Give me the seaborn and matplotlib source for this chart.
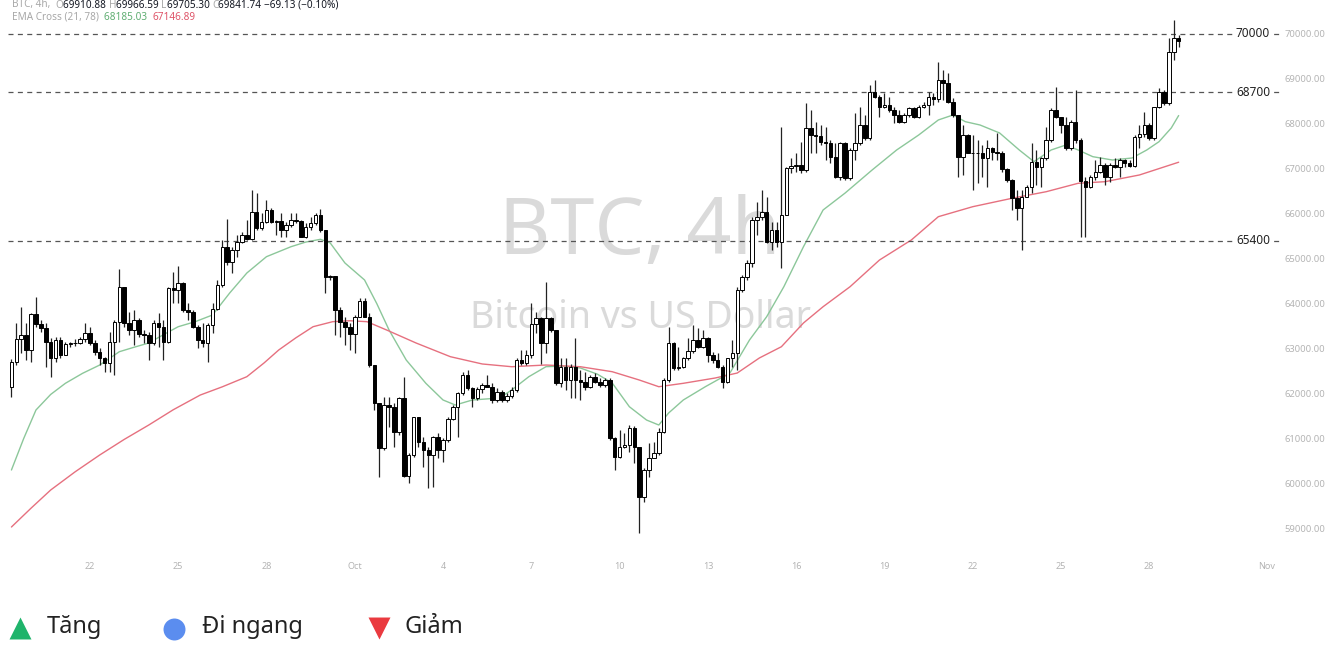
import numpy as np
import pandas as pd
import matplotlib
matplotlib.use("Agg")
import matplotlib.pyplot as plt
import matplotlib.dates as mdates
import seaborn as sns

W, H = 1337, 655

# --- 4h BTC candles ---
start = "2024-09-19 08:00"
first_open = 62153
close = [
    62709, 63206, 63303, 62969, 63770, 63548, 63451, 63154, 62784, 63192,
    62858, 63103, 63117, 63132, 63206, 63355, 63117, 62932, 62784, 62672,
    63154, 63600, 64363, 63562, 63414, 63637, 63325, 63310, 63117, 63562,
    63488, 63154, 64341, 64304, 64467, 63859, 63822, 63488, 63192, 63132,
    63525, 63874, 64415, 65268, 64934, 65194, 65379, 65528, 65431, 66047,
    65676, 65824, 66084, 65824, 65839, 65639, 65750, 65861, 65847, 65491,
    65713, 65787, 65973, 65639, 64601, 64620, 63859, 63600, 63488, 63325,
    63711, 64067, 63711, 62635, 61782, 60781, 61745, 61708, 61152, 61893,
    60165, 60633, 61471, 60929, 60744, 60633, 61026, 60744, 60967, 61434,
    61708, 62005, 62413, 62116, 61893, 62094, 62190, 62153, 61856, 62042,
    61857, 61946, 62079, 62746, 62687, 62858, 63547, 63674, 63117, 63674,
    63414, 62227, 62598, 62302, 62598, 62302, 62264, 62153, 62376, 62264,
    62190, 62302, 61004, 60596, 60818, 60855, 61226, 60818, 59706, 60299,
    60559, 60685, 61152, 62302, 63117, 62561, 62583, 62784, 62954, 63192,
    63043, 63229, 62858, 62747, 62598, 62264, 62784, 62910, 64304, 64601,
    64897, 65861, 65921, 66047, 65379, 65639, 65379, 65973, 67011, 67063,
    67085, 66974, 67901, 67753, 67731, 67604, 67567, 67271, 66826, 67567,
    66789, 67419, 67567, 67975, 67679, 68717, 68606, 68383, 68420, 68309,
    68198, 68049, 68198, 68346, 68146, 68383, 68420, 68606, 68546, 68976,
    68902, 68494, 68198, 67271, 67753, 67360, 67345, 67360, 67234, 67456,
    67382, 67360, 66989, 66751, 66344, 66121, 66381, 66603, 67159, 67048,
    67234, 67642, 68309, 68146, 67975, 67456, 68049, 67642, 66737, 66603,
    66826, 66937, 67085, 66826, 67085, 67048, 67197, 67122, 67063, 67716,
    67775, 67975, 67679, 68368, 68717, 68457, 69607, 69911, 69842,
]
high = [
    62760, 63577, 63933, 63562, 63785, 64156, 63637, 63562, 63229, 63266,
    63266, 63154, 63154, 63206, 63266, 63562, 63488, 63192, 63006, 62821,
    63377, 63637, 64764, 64378, 63822, 63859, 63674, 63414, 63377, 63637,
    63785, 63637, 64378, 64712, 64838, 64489, 64007, 63859, 63525, 63562,
    63562, 64007, 64526, 65417, 65876, 65268, 65528, 65602, 65861, 66529,
    66455, 66010, 66306, 66121, 65861, 66010, 65824, 66010, 66010, 65861,
    65787, 65936, 66010, 66099, 65639, 64638, 64601, 63933, 63711, 63562,
    63748, 64119, 64119, 63785, 62635, 61782, 61931, 61931, 61782, 61931,
    62376, 60670, 61486, 61486, 61041, 60818, 61056, 61115, 61004, 61486,
    61745, 62042, 62487, 62524, 62153, 62153, 62227, 62413, 62227, 62116,
    62079, 62005, 62153, 62784, 62969, 62969, 64007, 63822, 63711, 64489,
    63711, 63414, 62784, 62784, 62650, 63229, 62524, 62487, 62413, 62450,
    62339, 62339, 62339, 61041, 61189, 61115, 61300, 61278, 60818, 60336,
    60893, 60930, 61226, 62339, 63488, 63155, 63043, 62821, 63229, 63525,
    63451, 63414, 63266, 62932, 62895, 62635, 62800, 63192, 64378, 64638,
    64971, 65936, 66269, 66529, 66381, 65824, 65824, 67938, 67048, 67234,
    67345, 67604, 68457, 68309, 68049, 67975, 67938, 67642, 67567, 67604,
    67604, 67456, 68235, 68383, 68198, 68865, 68976, 68643, 68680, 68606,
    68383, 68309, 68235, 68383, 68383, 68420, 68494, 68717, 68680, 69384,
    69199, 69125, 68569, 68198, 67975, 67775, 67753, 67642, 67530, 67642,
    67493, 67790, 67404, 67011, 66766, 66529, 66529, 66640, 67567, 67419,
    67271, 67938, 68346, 68828, 68161, 68161, 68087, 68754, 67679, 66826,
    66863, 67196, 67271, 67122, 67122, 67234, 67234, 67211, 67197, 67753,
    67975, 68272, 68012, 68383, 68791, 68754, 69904, 70312, 69967,
]
low = [
    61931, 62635, 62895, 62747, 62709, 63488, 63377, 62598, 62376, 62709,
    62784, 62858, 63043, 63058, 63103, 63154, 63080, 62858, 62635, 62487,
    62487, 62413, 63154, 63488, 63303, 63080, 63266, 63117, 62747, 63080,
    63043, 62747, 63117, 64007, 64007, 63822, 63637, 63451, 63006, 63043,
    62709, 63340, 63859, 64378, 64860, 64675, 65046, 65342, 65417, 65417,
    65639, 65639, 65787, 65787, 65528, 65491, 65491, 65713, 65787, 65476,
    65454, 65639, 65750, 65602, 64230, 64526, 63303, 63266, 63080, 62969,
    62895, 63711, 63696, 62598, 61634, 60151, 60744, 61263, 60818, 61078,
    60151, 60003, 60596, 60818, 60373, 59891, 59928, 60559, 60485, 60929,
    61412, 61041, 61968, 62079, 61708, 61856, 62005, 62138, 61782, 61819,
    61819, 61819, 61894, 62042, 62635, 62635, 62784, 63340, 62657, 62895,
    63377, 62190, 62153, 62079, 61894, 61894, 61856, 62079, 62116, 62227,
    62153, 62153, 60967, 60299, 60559, 60781, 60707, 60447, 58890, 59594,
    60151, 60596, 60633, 61115, 62264, 62524, 62524, 62561, 62747, 62895,
    63006, 63006, 62709, 62687, 62561, 62116, 62227, 62598, 62524, 64267,
    64526, 64823, 65528, 65861, 65342, 65194, 65268, 64786, 65973, 66900,
    66937, 66900, 66937, 67345, 67345, 67530, 67196, 67122, 66789, 66751,
    66751, 66751, 67196, 67530, 67642, 67642, 68569, 68161, 68346, 68272,
    68012, 68012, 68012, 68146, 68124, 68124, 68346, 68198, 68420, 68494,
    68532, 68457, 68161, 66826, 66863, 67345, 66529, 66677, 66826, 66603,
    67196, 67196, 66937, 66714, 66084, 65861, 65194, 66381, 66455, 66640,
    66603, 67196, 67604, 68124, 67790, 67419, 67419, 67567, 65491, 65491,
    66566, 66751, 66900, 66640, 66714, 67011, 66826, 67048, 67048, 67048,
    67456, 67716, 67642, 67642, 68346, 68420, 68420, 69421, 69705,
]

# EMA Cross (21, 78) read at sample candles
ema_fast_idx = [0, 2.5, 5, 8, 11, 14.5, 18, 22, 25, 28, 31, 34, 37.5, 41, 44.5, 48, 52,
                57, 60, 63, 65, 68, 72, 74.5, 77, 80.5, 84.5, 88, 90.5, 94, 99.5, 102,
                105.5, 109, 112.5, 116, 119.5, 122.5, 126, 129.5, 132, 134, 137, 141.5,
                146.5, 150.5, 154, 157.5, 161.5, 165.5, 170, 175.5, 180.5, 185, 189, 192,
                194.5, 197.5, 201.5, 205.5, 208.5, 212, 215, 217.5, 220.5, 224.5, 228.5,
                231.5, 234, 236.5, 238]
ema_fast = [60299, 61000, 61634, 61980, 62228, 62450, 62635, 62931, 63030, 63125, 63310,
            63487, 63600, 63748, 64237, 64682, 65045, 65267, 65370, 65432, 65350, 64905,
            64527, 64000, 63414, 62746, 62228, 61857, 61745, 61857, 61901, 62079, 62375,
            62598, 62610, 62569, 62430, 62235, 61707, 61411, 61300, 61567, 61857, 62153,
            62457, 63192, 63710, 64377, 65267, 66084, 66462, 66974, 67419, 67753, 68087,
            68198, 68049, 67975, 67797, 67419, 67159, 67419, 67530, 67419, 67270, 67196,
            67241, 67419, 67604, 67909, 68185.03]
ema_slow_idx = [0, 4, 8, 13, 18, 23, 28, 33, 38.5, 43, 48, 51.5, 54.5, 58, 61.5, 65.5, 69,
                72.5, 76.5, 82.5, 89.5, 96, 102, 109, 116, 122.5, 128, 132, 137, 143.5,
                148, 152.5, 157, 161.5, 165.5, 171, 177, 183.5, 189, 196, 204, 211, 217.5,
                223, 230, 238]
ema_slow = [59031, 59450, 59854, 60260, 60633, 60980, 61300, 61640, 61967, 62150, 62375,
            62680, 62969, 63240, 63487, 63599, 63620, 63599, 63414, 63125, 62820, 62658,
            62597, 62635, 62597, 62486, 62302, 62152, 62228, 62346, 62457, 62791, 63042,
            63570, 63932, 64377, 64971, 65417, 65935, 66157, 66344, 66491, 66678, 66714,
            66863, 67146.89]

levels = [70000, 68700, 65400]
price_ticks = [59000, 60000, 61000, 62000, 63000, 64000, 65000, 66000, 67000, 68000, 69000, 70000]
date_ticks = ["2024-09-22", "2024-09-25", "2024-09-28", "2024-10-01", "2024-10-04",
              "2024-10-07", "2024-10-10", "2024-10-13", "2024-10-16", "2024-10-19",
              "2024-10-22", "2024-10-25", "2024-10-28", "2024-11-01"]
date_labels = ["22", "25", "28", "Oct", "4", "7", "10", "13", "16", "19", "22", "25", "28", "Nov"]

legend_labels = ["Tăng", "Đi ngang", "Giảm"]
legend_colors = ["#1fb46b", "#5b8def", "#ea3a3f"]
legend_markers = ["^", "o", "v"]

# --- build ---
sns.set_theme(style="white")
plt.rcParams["font.family"] = ["Noto Sans", "DejaVu Sans"]

times = pd.date_range(start, periods=len(close), freq="4h")
x = mdates.date2num(times)
step = 4 / 24
opens = np.array([first_open] + close[:-1], dtype=float)
closes = np.array(close, dtype=float)
up = closes >= opens

fig = plt.figure(figsize=(W / 100, H / 100), dpi=100)
ax = fig.add_axes([0, 1 - 555 / H, 1280 / W, 555 / H])

# watermark
ax.text(0.5, 1 - 234 / 555, "BTC, 4h", transform=ax.transAxes, ha="center", va="center",
        fontsize=57, color="#dadada", zorder=0)
ax.text(0.5, 1 - 318 / 555, "Bitcoin vs US Dollar", transform=ax.transAxes, ha="center",
        va="center", fontsize=27, color="#dadada", zorder=0)

# EMA lines
sns.lineplot(x=x[0] + np.array(ema_fast_idx) * step, y=ema_fast, ax=ax, color="#8cc79a",
             linewidth=1.0, zorder=1)
sns.lineplot(x=x[0] + np.array(ema_slow_idx) * step, y=ema_slow, ax=ax, color="#e6707f",
             linewidth=1.0, zorder=1)

# candles
ax.vlines(x, low, high, color="#222222", linewidth=0.9, zorder=2)
body_lo = np.minimum(opens, closes)
body_h = np.abs(closes - opens)
ax.bar(x[up], body_h[up], bottom=body_lo[up], width=step * 0.72, color="white",
       edgecolor="black", linewidth=0.7, zorder=3)
ax.bar(x[~up], body_h[~up], bottom=body_lo[~up], width=step * 0.72, color="black",
       edgecolor="black", linewidth=0.7, zorder=3)

# key levels
for lv in levels:
    ax.axhline(lv, xmin=8 / 1280, xmax=1.0, color="#555555", linewidth=0.9,
               linestyle=(0, (4, 3.5)), zorder=1.5)
    ax.text(1253 / 1280, lv, str(lv), transform=ax.get_yaxis_transform(), ha="center",
            va="center", fontsize=8.5, color="#222222", zorder=4,
            bbox=dict(facecolor="white", edgecolor="none", pad=1.5))

ax.set_xlim(mdates.date2num(pd.Timestamp("2024-09-18 22:40")),
            mdates.date2num(pd.Timestamp("2024-11-01 10:40")))
ax.set_ylim(58408, 70756)
ax.yaxis.tick_right()
ax.set_yticks(price_ticks)
ax.set_yticklabels([f"{v:.2f}" for v in price_ticks])
ax.set_xticks(mdates.date2num(pd.to_datetime(date_ticks)))
ax.set_xticklabels(date_labels)
ax.tick_params(axis="y", length=0, pad=3, labelsize=6.8, labelcolor="#b4b4b4")
ax.tick_params(axis="x", length=0, pad=5, labelsize=6.5, labelcolor="#b4b4b4")
for s in ax.spines.values():
    s.set_visible(False)
ax.grid(False)
ax.set_facecolor("none")

# overlay for header and legend in pixel coords
ov = fig.add_axes([0, 0, 1, 1], zorder=5)
ov.set_xlim(0, W)
ov.set_ylim(H, 0)
ov.axis("off")
ov.patch.set_alpha(0)
renderer = fig.canvas.get_renderer()


def write_row(px, py, parts, size):
    # place coloured pieces one after another
    for t, c, wgt in parts:
        txt = ov.text(px, py, t, ha="left", va="center", fontsize=size, color=c,
                      fontweight=wgt)
        px += txt.get_window_extent(renderer).width


gray = "#a8a8a8"
dark = "#131722"
write_row(12, 5, [("BTC, 4h,  ", gray, "normal"), ("O", gray, "normal"),
                  ("69910.88 ", dark, "semibold"), ("H", gray, "normal"),
                  ("69966.59 ", dark, "semibold"), ("L", gray, "normal"),
                  ("69705.30 ", dark, "semibold"), ("C", gray, "normal"),
                  ("69841.74 ", dark, "semibold"),
                  ("\u221269.13 (\u22120.10%)", dark, "semibold")], 7.2)
write_row(12, 17, [("EMA Cross (21, 78)  ", gray, "normal"),
                   ("68185.03  ", "#5fae72", "normal"),
                   ("67146.89", "#de5468", "normal")], 7.2)

leg_pos = [(20, 628), (174, 629), (378.5, 627.5)]
txt_x = [47, 202, 405]
for (mx, my), tx, lab, col, mk in zip(leg_pos, txt_x, legend_labels, legend_colors,
                                      legend_markers):
    ov.scatter([mx], [my], s=250, marker=mk, color=col, linewidths=0)
    ov.text(tx, 627, lab, ha="left", va="center", fontsize=17, color="#222222")

fig.savefig("out.png", dpi=100, facecolor="white")
